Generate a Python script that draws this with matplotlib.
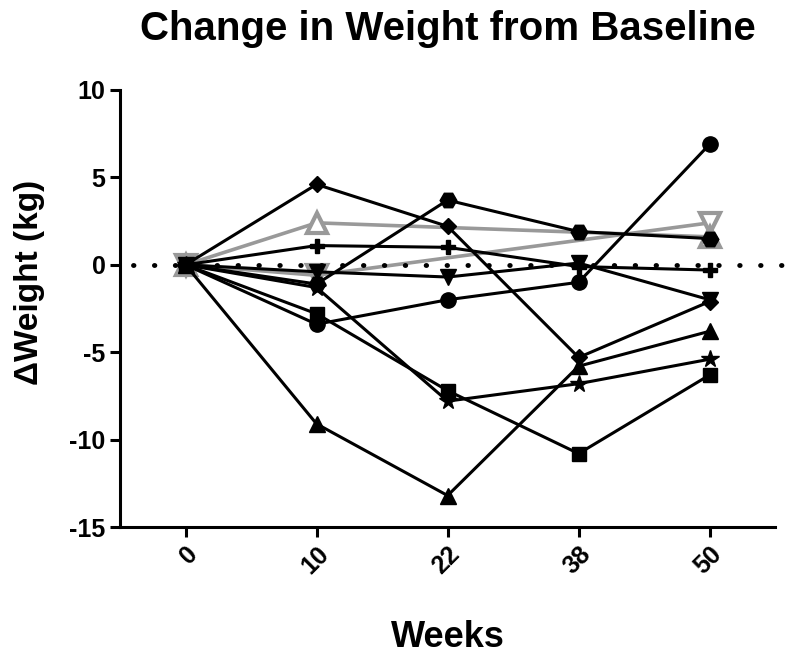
import numpy as np
import matplotlib
matplotlib.use('Agg')
import matplotlib.pyplot as plt

plt.rcParams['font.family'] = ['Liberation Sans', 'DejaVu Sans']
plt.rcParams['axes.unicode_minus'] = False

weeks = ['0', '10', '22', '38', '50']

# change in weight (kg) per subject, nan = not measured
circulo = [0, -3.4, -2.0, -1.0, 6.9]
hexagono = [0, -1.1, 3.7, 1.9, 1.5]
diamante = [0, 4.6, 2.2, -5.3, -2.1]
tri_abajo = [0, -0.4, -0.7, 0.1, -2.0]
cruz = [0, 1.1, 1.0, -0.1, -0.3]
estrella = [0, -1.3, -7.8, -6.8, -5.4]
cuadrado = [0, -2.8, -7.2, -10.8, -6.3]
tri_arriba = [0, -9.1, -13.2, -5.8, -3.8]
gris_arriba = [0, 2.4, np.nan, np.nan, 1.6]
gris_abajo = [0, -0.6, np.nan, np.nan, 2.4]

x = np.arange(len(weeks))

fig = plt.figure(figsize=(8, 6.55), dpi=100)
ax = fig.add_axes([0.15, 0.1954, 0.819, 0.6672])

gris = '#999999'
for serie, m in ((gris_abajo, 'v'), (gris_arriba, '^')):
    y = np.array(serie, dtype=float)
    ok = ~np.isnan(y)
    ax.plot(x[ok], y[ok], color=gris, linewidth=2.6, marker=m, markersize=14,
            markerfacecolor='white', markeredgecolor=gris, markeredgewidth=3,
            zorder=2)

negras = ((circulo, 'o', 11), (hexagono, 'H', 12), (diamante, 'D', 8),
          (tri_abajo, 'v', 11), (cruz, 'P', 10), (estrella, '*', 13),
          (cuadrado, 's', 10), (tri_arriba, '^', 11))
for serie, m, ms in negras:
    ax.plot(x, serie, color='black', linewidth=2.2, marker=m, markersize=ms,
            markerfacecolor='black', markeredgecolor='black', zorder=3)

ax.axhline(0, xmin=0.02, xmax=1.03, color='black', linestyle=(0, (0.1, 4.2)),
           linewidth=3.5, dash_capstyle='round', clip_on=False, zorder=4)

ax.set_xlim(-0.5, 4.5)
ax.set_ylim(-15, 10)
ax.set_yticks([-15, -10, -5, 0, 5, 10])
ax.set_xticks(x)
ax.set_xticklabels(weeks, rotation=45, ha='right', rotation_mode='anchor',
                   fontsize=18, fontweight='bold')
for t in ax.get_yticklabels():
    t.set_fontsize(18)
    t.set_fontweight('bold')

for s in ('top', 'right'):
    ax.spines[s].set_visible(False)
for s in ('left', 'bottom'):
    ax.spines[s].set_linewidth(2.2)
ax.tick_params(width=2.2, length=7, direction='out')

ax.set_xlabel('Weeks', fontsize=26, fontweight='bold', labelpad=30)
ax.set_ylabel('\u0394Weight (kg)', fontsize=24, fontweight='bold')
ax.yaxis.set_label_coords(-0.115, 0.56)
ax.set_title('Change in Weight from Baseline', fontsize=29, fontweight='bold',
             pad=36)

fig.savefig('out.png', dpi=100)
